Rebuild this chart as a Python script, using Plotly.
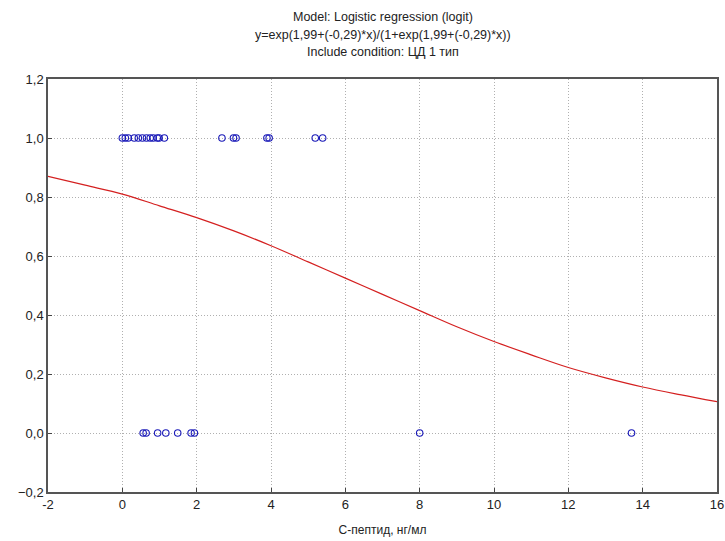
import plotly.graph_objects as go

# observed data (C-peptide, outcome)
x_one = [0.0, 0.08, 0.16, 0.32, 0.43, 0.54, 0.65, 0.75, 0.83, 0.94, 0.99, 1.13,
         2.68, 2.99, 3.06, 3.89, 3.95, 5.19, 5.39]
x_zero = [0.56, 0.64, 0.95, 1.17, 1.49, 1.85, 1.94, 8.0, 13.7]

# fitted curve
curve_x = [-2, -1, 0, 1, 2, 3, 4, 5, 6, 7, 8, 9, 10, 11, 12, 13, 14, 15, 16]
curve_y = [0.87, 0.84, 0.81, 0.77, 0.73, 0.685, 0.635, 0.58, 0.525, 0.47, 0.415,
           0.36, 0.31, 0.265, 0.222, 0.187, 0.156, 0.13, 0.106]

x_ticks = [-2, 0, 2, 4, 6, 8, 10, 12, 14, 16]
y_ticks = [-0.2, 0.0, 0.2, 0.4, 0.6, 0.8, 1.0, 1.2]

title_lines = ["Model: Logistic regression (logit)",
               "y=exp(1,99+(-0,29)*x)/(1+exp(1,99+(-0,29)*x))",
               "Include condition: ЦД 1 тип"]

FONT = "Liberation Sans, Arial"

fig = go.Figure()
fig.add_trace(go.Scatter(x=curve_x, y=curve_y, mode="lines", line=dict(color="#d42020", width=1.2, shape="spline"),
                         showlegend=False, hoverinfo="skip"))
fig.add_trace(go.Scatter(x=x_one, y=[1.0] * len(x_one), mode="markers",
                         marker=dict(symbol="circle-open", size=6.5, color="#1a1ab8", line=dict(width=1.1)),
                         showlegend=False))
fig.add_trace(go.Scatter(x=x_zero, y=[0.0] * len(x_zero), mode="markers",
                         marker=dict(symbol="circle-open", size=6.5, color="#1a1ab8", line=dict(width=1.1)),
                         showlegend=False))

axis_common = dict(showline=True, linecolor="#555555", linewidth=1.5, mirror=True,
                   ticks="inside", ticklen=4, tickcolor="#444444",
                   showgrid=True, gridcolor="#b0b0b0", griddash="1px,2px", gridwidth=1,
                   zeroline=False, automargin=False,
                   tickfont=dict(family=FONT, size=13, color="#222222"))

annotations = []
for i, t in enumerate(title_lines):
    annotations.append(dict(text=t, xref="paper", yref="paper", x=0.5, y=1.0, xanchor="center", yanchor="middle",
                            yshift=79 - (17 + 17.5 * i), showarrow=False,
                            font=dict(family=FONT, size=12.5, color="#222222")))

fig.update_layout(
    width=725, height=541,
    margin=dict(l=48, r=8, t=79, b=49),
    paper_bgcolor="white", plot_bgcolor="white",
    separators=", ",
    annotations=annotations,
    xaxis=dict(range=[-2, 16], tickvals=x_ticks, ticktext=[str(v) for v in x_ticks],
               title=dict(text="С-пептид, нг/мл", font=dict(family=FONT, size=12, color="#222222"), standoff=14),
               **axis_common),
    yaxis=dict(range=[-0.2, 1.2], tickvals=y_ticks, tickformat=".1f", **axis_common),
)

fig.write_html("out.html")
